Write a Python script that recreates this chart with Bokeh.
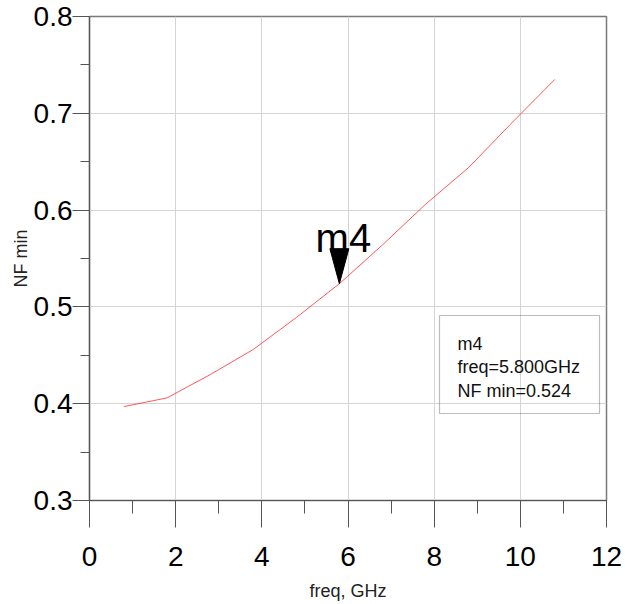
from bokeh.plotting import figure
from bokeh.models import FixedTicker, BoxAnnotation, Label, Range1d
from bokeh.embed import file_html
from bokeh.resources import INLINE

# ---- data ----
freq_ghz = [0.8, 1.8, 2.8, 3.8, 4.8, 5.8, 6.8, 7.8, 8.8, 9.8, 10.8]
nf_min = [0.397, 0.406, 0.430, 0.456, 0.489, 0.524, 0.564, 0.606, 0.644, 0.690, 0.735]

x_ticks = [0, 2, 4, 6, 8, 10, 12]
x_minor = [1, 3, 5, 7, 9, 11]
x_labels = ["0", "2", "4", "6", "8", "10", "12"]
y_ticks = [0.3, 0.4, 0.5, 0.6, 0.7, 0.8]
y_minor = [0.35, 0.45, 0.55, 0.65, 0.75]
y_labels = ["0.3", "0.4", "0.5", "0.6", "0.7", "0.8"]

marker_name = "m4"
marker_x = 5.8
marker_y = 0.524
readout = ["m4", "freq=5.800GHz", "NF min=0.524"]

FONT = "Liberation Sans"

p = figure(frame_width=517, frame_height=484,
           min_border_left=89, min_border_right=19, min_border_top=16, min_border_bottom=100,
           x_range=Range1d(0, 12), y_range=Range1d(0.3, 0.8),
           output_backend="svg", toolbar_location=None,
           background_fill_color="white", border_fill_color="white")

p.outline_line_color = "#7a7a7a"
p.outline_line_width = 1.5

# axes
p.xaxis.ticker = FixedTicker(ticks=x_ticks, minor_ticks=x_minor)
p.yaxis.ticker = FixedTicker(ticks=y_ticks, minor_ticks=y_minor)
p.xaxis.major_label_overrides = {t: l for t, l in zip(x_ticks, x_labels)}
p.yaxis.major_label_overrides = {t: l for t, l in zip(y_ticks, y_labels)}

for ax in (p.xaxis[0], p.yaxis[0]):
    ax.axis_line_color = "#555555"
    ax.axis_line_width = 1.2
    ax.major_tick_line_color = "#555555"
    ax.minor_tick_line_color = "#555555"
    ax.major_tick_in = 0
    ax.minor_tick_in = 0
    ax.major_label_text_font = FONT
    ax.major_label_text_font_size = "28px"
    ax.major_label_text_color = "black"
    ax.axis_label_text_font = FONT
    ax.axis_label_text_font_size = "18px"
    ax.axis_label_text_font_style = "normal"
    ax.axis_label_text_color = "#222222"

p.xaxis.major_tick_out = 27
p.xaxis.minor_tick_out = 13
p.xaxis.major_label_standoff = 19
p.xaxis.axis_label = "freq, GHz"
p.xaxis.axis_label_standoff = 12

p.yaxis.major_tick_out = 17
p.yaxis.minor_tick_out = 9
p.yaxis.major_label_standoff = 0
p.yaxis.axis_label = "NF min"
p.yaxis.axis_label_standoff = 0

# grid
p.xgrid.grid_line_color = "#d4d4d4"
p.ygrid.grid_line_color = "#d4d4d4"
p.xgrid.ticker = FixedTicker(ticks=x_ticks)
p.ygrid.ticker = FixedTicker(ticks=y_ticks)

# series
p.line(freq_ghz, nf_min, line_color="#ff3030", line_width=0.9, line_alpha=0.9)

# marker (triangle tip on the data point)
px_x = 12 / 517.0
px_y = 0.5 / 484.0
half_w = 9.5 * px_x
tri_h = 35 * px_y
p.patch([marker_x - half_w, marker_x + half_w, marker_x],
        [marker_y + tri_h, marker_y + tri_h, marker_y],
        fill_color="black", line_color="black")
p.add_layout(Label(x=marker_x + 4 * px_x, y=marker_y + 46 * px_y, text=marker_name,
                   text_font=FONT, text_font_size="40px", text_align="center",
                   text_baseline="middle", text_color="black"))

# readout box
box_left = (439 - 89) * px_x
box_right = (599 - 89) * px_x
box_top = 0.8 - (315 - 16) * px_y
box_bottom = 0.8 - (413 - 16) * px_y
p.add_layout(BoxAnnotation(left=box_left, right=box_right, top=box_top, bottom=box_bottom,
                           fill_alpha=0, line_color="#222222", line_width=1.2))
for i, t in enumerate(readout):
    yc = 0.8 - (343 - 16 + i * 23.5) * px_y
    p.add_layout(Label(x=(457 - 89) * px_x, y=yc, text=t, text_font=FONT,
                       text_font_size="18px", text_baseline="middle",
                       text_color="#111111"))

open("out.html", "w").write(file_html(p, INLINE))
